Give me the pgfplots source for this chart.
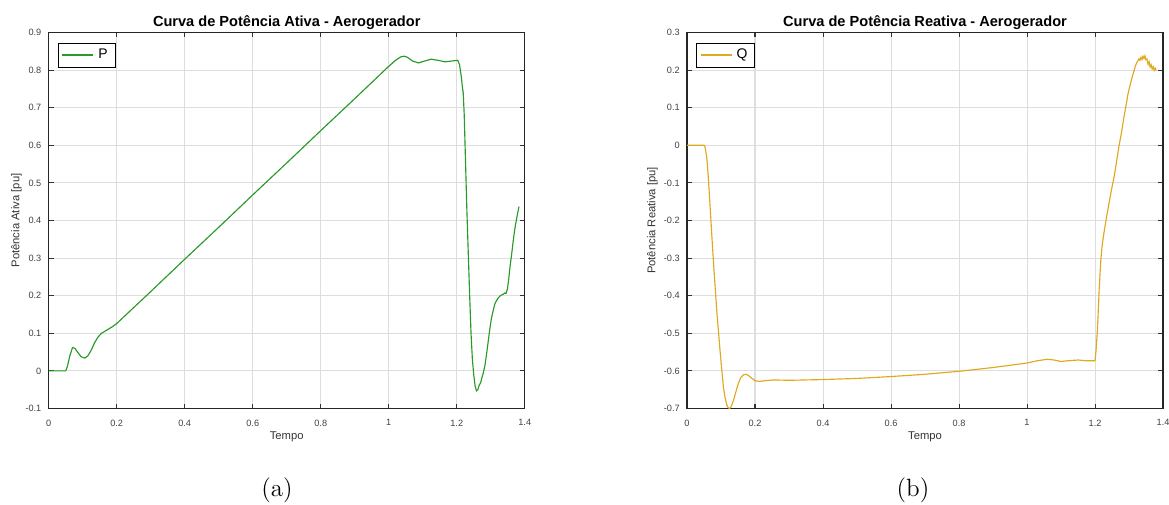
\documentclass[border=0pt]{standalone}
\usepackage{fontspec}
\setsansfont{Liberation Sans}
\usepackage{pgfplots}
\pgfplotsset{compat=1.18}

\definecolor{pgreen}{rgb}{0.16,0.60,0.16}
\definecolor{qgold}{rgb}{0.87,0.66,0.12}

\pgfplotsset{
  matlab/.style={
    scale only axis,
    width=228.5pt, height=180.5pt,
    xmin=0, xmax=1.4,
    xtick={0,0.2,0.4,0.6,0.8,1,1.2,1.4},
    grid=major,
    major grid style={draw=black!13, line width=0.5pt},
    tick align=inside,
    major tick length=2.4pt,
    tick style={draw=black!80, line width=0.5pt},
    axis line style={draw=black!85, line width=0.6pt},
    /pgf/number format/assume math mode=true,
    tick label style={font=\sffamily\fontsize{4.4}{5}\selectfont, text=black!75},
    xticklabel style={yshift=-1.8pt},
    label style={font=\sffamily\fontsize{5.4}{6}\selectfont, text=black!80},
    xlabel style={at={(axis description cs:0.5,-0.076)}, anchor=center},
    title style={font=\sffamily\bfseries\fontsize{7}{8}\selectfont, yshift=-8pt},
    legend style={at={(0.0195,0.973)}, anchor=north west,
      font=\sffamily\fontsize{6.7}{8}\selectfont,
      inner xsep=1.5pt, inner ysep=0.8pt},
    legend cell align=left,
    legend image code/.code={\draw[#1] (0cm,0cm) -- (0.52cm,0cm);},
  }
}

\begin{document}
\begin{tikzpicture}

% (a) potencia ativa
\begin{axis}[matlab,
    at={(23.38pt,-196.08pt)}, anchor=south west,
    ymin=-0.1, ymax=0.9,
    ytick={-0.1,0,0.1,0.2,0.3,0.4,0.5,0.6,0.7,0.8,0.9},
    title={Curva de Potência Ativa - Aerogerador},
    xlabel={Tempo},
    ylabel={Potência Ativa [pu]},
    ylabel style={at={(axis description cs:-0.068,0.5)}, anchor=center},
]
\addlegendimage{draw=pgreen, line width=0.9pt}
\addlegendentry{P}
\addplot[draw=pgreen, line width=0.55pt, forget plot] coordinates {
  (0,0)(0.05,0)(0.055,0.012)(0.062,0.04)(0.07,0.062)(0.077,0.06)
  (0.085,0.05)(0.095,0.038)(0.106,0.034)(0.115,0.04)(0.125,0.055)
  (0.135,0.075)(0.145,0.09)(0.155,0.10)(0.17,0.108)(0.188,0.118)
  (0.2,0.126)(0.3,0.211)(0.4,0.297)(0.5,0.382)(0.6,0.468)(0.7,0.553)
  (0.8,0.639)(0.9,0.724)(1.0,0.81)(1.02,0.826)(1.035,0.835)(1.045,0.837)
  (1.055,0.834)(1.07,0.824)(1.088,0.819)(1.105,0.824)(1.125,0.829)
  (1.145,0.826)(1.165,0.822)(1.185,0.824)(1.203,0.826)(1.208,0.815)
  (1.213,0.785)(1.217,0.752)(1.219,0.74)(1.222,0.68)(1.226,0.55)
  (1.23,0.42)(1.234,0.31)(1.238,0.2)(1.242,0.1)(1.246,0.03)(1.25,-0.01)
  (1.254,-0.04)(1.258,-0.053)(1.262,-0.05)(1.266,-0.038)(1.27,-0.032)
  (1.274,-0.018)(1.278,-0.006)(1.283,0.015)(1.287,0.04)(1.292,0.075)
  (1.297,0.11)(1.302,0.14)(1.307,0.16)(1.312,0.178)(1.317,0.187)
  (1.322,0.194)(1.327,0.199)(1.332,0.202)(1.337,0.204)(1.341,0.207)
  (1.345,0.206)(1.349,0.218)(1.353,0.245)(1.357,0.28)(1.361,0.307)
  (1.366,0.345)(1.371,0.379)(1.377,0.41)(1.383,0.437)
};
\end{axis}

% (b) potencia reativa
\begin{axis}[matlab,
    at={(329.76pt,-196.08pt)}, anchor=south west,
    ymin=-0.7, ymax=0.3,
    ytick={-0.7,-0.6,-0.5,-0.4,-0.3,-0.2,-0.1,0,0.1,0.2,0.3},
    title={Curva de Potência Reativa - Aerogerador},
    xlabel={Tempo},
    ylabel={Potência Reativa [pu]},
    ylabel style={at={(axis description cs:-0.0725,0.5)}, anchor=center},
]
\addlegendimage{draw=qgold, line width=0.9pt}
\addlegendentry{Q}
\addplot[draw=qgold, line width=0.55pt, forget plot] coordinates {
  (0,0)(0.05,0)(0.053,-0.005)(0.058,-0.031)(0.063,-0.09)(0.068,-0.164)
  (0.073,-0.24)(0.078,-0.314)(0.083,-0.38)(0.088,-0.446)(0.093,-0.5)
  (0.097,-0.544)(0.102,-0.595)(0.107,-0.642)(0.112,-0.672)(0.117,-0.69)
  (0.121,-0.698)(0.125,-0.70)(0.13,-0.695)(0.137,-0.677)(0.144,-0.655)
  (0.151,-0.633)(0.158,-0.618)(0.166,-0.610)(0.174,-0.609)(0.182,-0.613)
  (0.191,-0.62)(0.2,-0.626)(0.213,-0.628)(0.23,-0.626)(0.255,-0.624)
  (0.3,-0.625)(0.4,-0.623)(0.5,-0.620)(0.6,-0.615)(0.7,-0.609)(0.8,-0.601)
  (0.9,-0.591)(1.0,-0.579)(1.03,-0.573)(1.06,-0.569)(1.08,-0.571)
  (1.1,-0.575)(1.12,-0.573)(1.15,-0.571)(1.175,-0.573)(1.2,-0.573)
  (1.203,-0.545)(1.207,-0.49)(1.21,-0.43)(1.212,-0.385)(1.217,-0.305)
  (1.221,-0.265)(1.226,-0.234)(1.233,-0.195)(1.241,-0.154)(1.248,-0.12)
  (1.256,-0.084)(1.263,-0.045)(1.27,-0.004)(1.278,0.035)(1.285,0.075)
  (1.291,0.105)(1.297,0.137)(1.303,0.16)(1.309,0.181)(1.314,0.196)
  (1.319,0.212)(1.324,0.222)(1.329,0.23)(1.332,0.226)(1.335,0.234)
  (1.338,0.228)(1.341,0.237)(1.344,0.231)(1.347,0.238)(1.350,0.227)
  (1.353,0.229)(1.356,0.215)(1.359,0.222)(1.362,0.208)(1.365,0.214)
  (1.368,0.203)(1.371,0.209)(1.374,0.199)(1.377,0.205)(1.38,0.199)
};
\end{axis}

\node[font=\fontsize{12}{14}\selectfont] at (132.96pt,-235.2pt) {(a)};
\node[font=\fontsize{12}{14}\selectfont] at (438.24pt,-235.2pt) {(b)};

\pgfresetboundingbox
\path[use as bounding box] (0pt,0pt) rectangle (561.12pt,-241.92pt);
\end{tikzpicture}
\end{document}
